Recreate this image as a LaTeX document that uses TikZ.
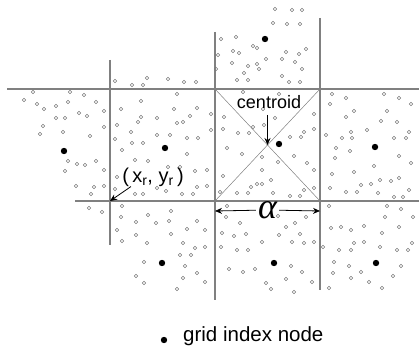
\documentclass[tikz,border=0pt]{standalone}
\usepackage{fontspec}
\setmainfont{Liberation Sans}
\newfontfamily\alphafont{Liberation Serif}
\usepackage{tikz}
\usetikzlibrary{arrows.meta, positioning, calc}
\definecolor{gridgray}{HTML}{808080}
\definecolor{ptgray}{HTML}{7A7A7A}
\tikzset{
  gline/.style={draw=gridgray, line width=1.2pt},
  gdiag/.style={draw=gridgray, line width=0.5pt},
  gpt/.style={draw=ptgray, line width=0.55pt},
  gidx/.style={fill=black},
  glbl/.style={font=\fontsize{18}{20}\selectfont, inner sep=1pt},
  garrow/.style={-{Stealth[length=7pt,width=6pt]}, line width=0.8pt, black},
}
\begin{document}
\begin{tikzpicture}[x=1pt, y=-1pt]
    \useasboundingbox (0,0) rectangle (419,347);
    % grid lines
    \draw[gline] (7,89) -- (419,89);
    \draw[gline] (75,201) -- (419,201);
    \draw[gline] (110,60) -- (110,245);
    \draw[gline] (215,32) -- (215,300);
    \draw[gline] (320,18) -- (320,290);
    % diagonals of the cell
    \draw[gdiag] (215,89) -- (320,201);
    \draw[gdiag] (320,89) -- (215,201);
    % small points
    \foreach \p in {(115,81),(132,85),(143,85),(147,78),(168,79),(184,82),(196,82),
      (275,9),(292,10),(302,10),(273,23),(287,24),(300,24),
      (221,39),(236,37),(253,46),(257,48),(233,51),(239,53),(218,55),(306,49),(286,52),(299,54),
      (266,59),(282,59),(232,63),(248,66),(257,64),(259,69),(295,62),(216,69),(244,73),(302,69),
      (282,76),(237,80),(248,80),(289,82),(300,82),
      (33,92),(70,92),(84,95),(24,100),(37,104),(44,109),(56,106),(68,102),(96,102),(104,111),
      (56,118),(65,118),(79,113),(87,116),(43,126),(104,127),(40,134),(63,132),(90,136),
      (68,161),(77,164),(85,165),(96,161),(65,171),(104,170),(76,186),(94,187),(104,186),(91,194),
      (89,208),(102,212),
      (177,94),(141,101),(121,109),(174,109),(197,108),(141,117),(138,122),(157,118),(177,123),
      (183,122),(190,116),(117,125),(131,132),(157,135),(170,135),(187,138),(198,138),(115,139),
      (132,143),(143,143),(122,150),(187,154),(135,160),(148,161),(168,167),(180,167),(195,171),
      (207,170),(117,177),(157,188),(166,191),(182,194),(193,194),(197,187),(207,186),(135,194),
      (143,194),(211,114),(211,130),(115,189),
      (243,92),(279,94),(263,109),(224,117),(223,129),(238,133),(253,127),(264,125),(275,118),
      (249,133),(314,114),(314,129),(304,132),(290,137),(301,137),(227,148),(242,154),(262,157),
      (278,162),(294,156),(307,163),(262,170),(223,176),(257,184),(271,180),(251,187),(262,184),
      (237,193),(248,193),(273,193),(290,196),(300,196),(304,190),(314,188),(220,192),(314,170),
      (332,94),(346,98),(384,94),(399,98),(411,104),(330,104),(354,111),(387,111),(346,117),
      (381,121),(397,122),(326,135),(342,138),(352,138),(351,132),(367,130),(409,132),(394,138),
      (406,138),(336,148),(350,151),(399,156),(335,158),(411,163),(374,166),(354,172),(332,174),
      (380,180),(399,178),(330,188),(346,192),(357,192),(361,185),(371,184),(391,181),(409,190),
      (378,193),(394,197),(403,197),
      (122,206),(171,211),(121,217),(148,215),(136,222),(156,223),(169,221),(197,221),(117,230),
      (136,235),(187,229),(205,230),(171,234),(122,241),(147,243),(183,243),(195,248),(205,247),
      (180,255),(191,255),(144,262),(185,266),(197,273),(136,276),(183,278),(205,282),(144,283),
      (177,289),
      (227,206),(226,217),(240,223),(278,216),(222,233),(234,236),(246,234),(286,227),(295,223),
      (300,234),(279,235),(306,217),(221,247),(237,250),(248,250),(262,242),(292,242),(304,243),
      (314,242),(229,269),(243,272),(255,269),(291,266),(302,272),(286,279),(266,283),(312,282),
      (271,289),(294,292),
      (329,206),(387,206),(401,209),(385,217),(413,217),(331,228),(341,227),(351,230),(364,226),
      (399,227),(382,233),(354,243),(364,242),(323,247),(339,250),(351,250),(380,247),(397,250),
      (408,250),(412,243),(334,262),(349,266),(401,266),(333,273),(361,272),(351,278),(369,282),
      (393,276),(329,288),(382,288)}
      \draw[gpt] \p circle (1.8);
    % grid index nodes
    \foreach \p in {(64,151),(165,148),(265,39),(279,144),(375,147),(162,263),(274,263),(376,263)}
      \fill[gidx] \p circle (3.2);
    % labels
    \coordinate (cc) at (267.5,145);
    \coordinate (corner) at (110,201);
    \coordinate (aL) at (215,211);
    \coordinate (aR) at (320,211);
    \node[glbl] (centroid) at (269,102) {centroid};
    \draw[garrow] ([yshift=-5pt]centroid.south -| cc) -- (cc);
    \node[glbl, font=\fontsize{20}{22}\selectfont] (xr) at (153,177) {(\,x\textsubscript{r}, y\textsubscript{r}\,)};
    \draw[garrow] ([xshift=-22pt,yshift=1pt]xr.south) -- (corner);
    \node[inner sep=2pt, font=\alphafont\itshape\fontsize{36}{38}\selectfont] (alpha) at (267.5,210) {α};
    \draw[garrow] (alpha) -- (aL);
    \draw[garrow] (alpha) -- (aR);
    % legend
    \fill[gidx] (164,340) coordinate (ldot) circle (3.2);
    \node[glbl, font=\fontsize{20.5}{22}\selectfont, anchor=west] (legend) at (182,336) {grid index node};
\end{tikzpicture}
\end{document}
